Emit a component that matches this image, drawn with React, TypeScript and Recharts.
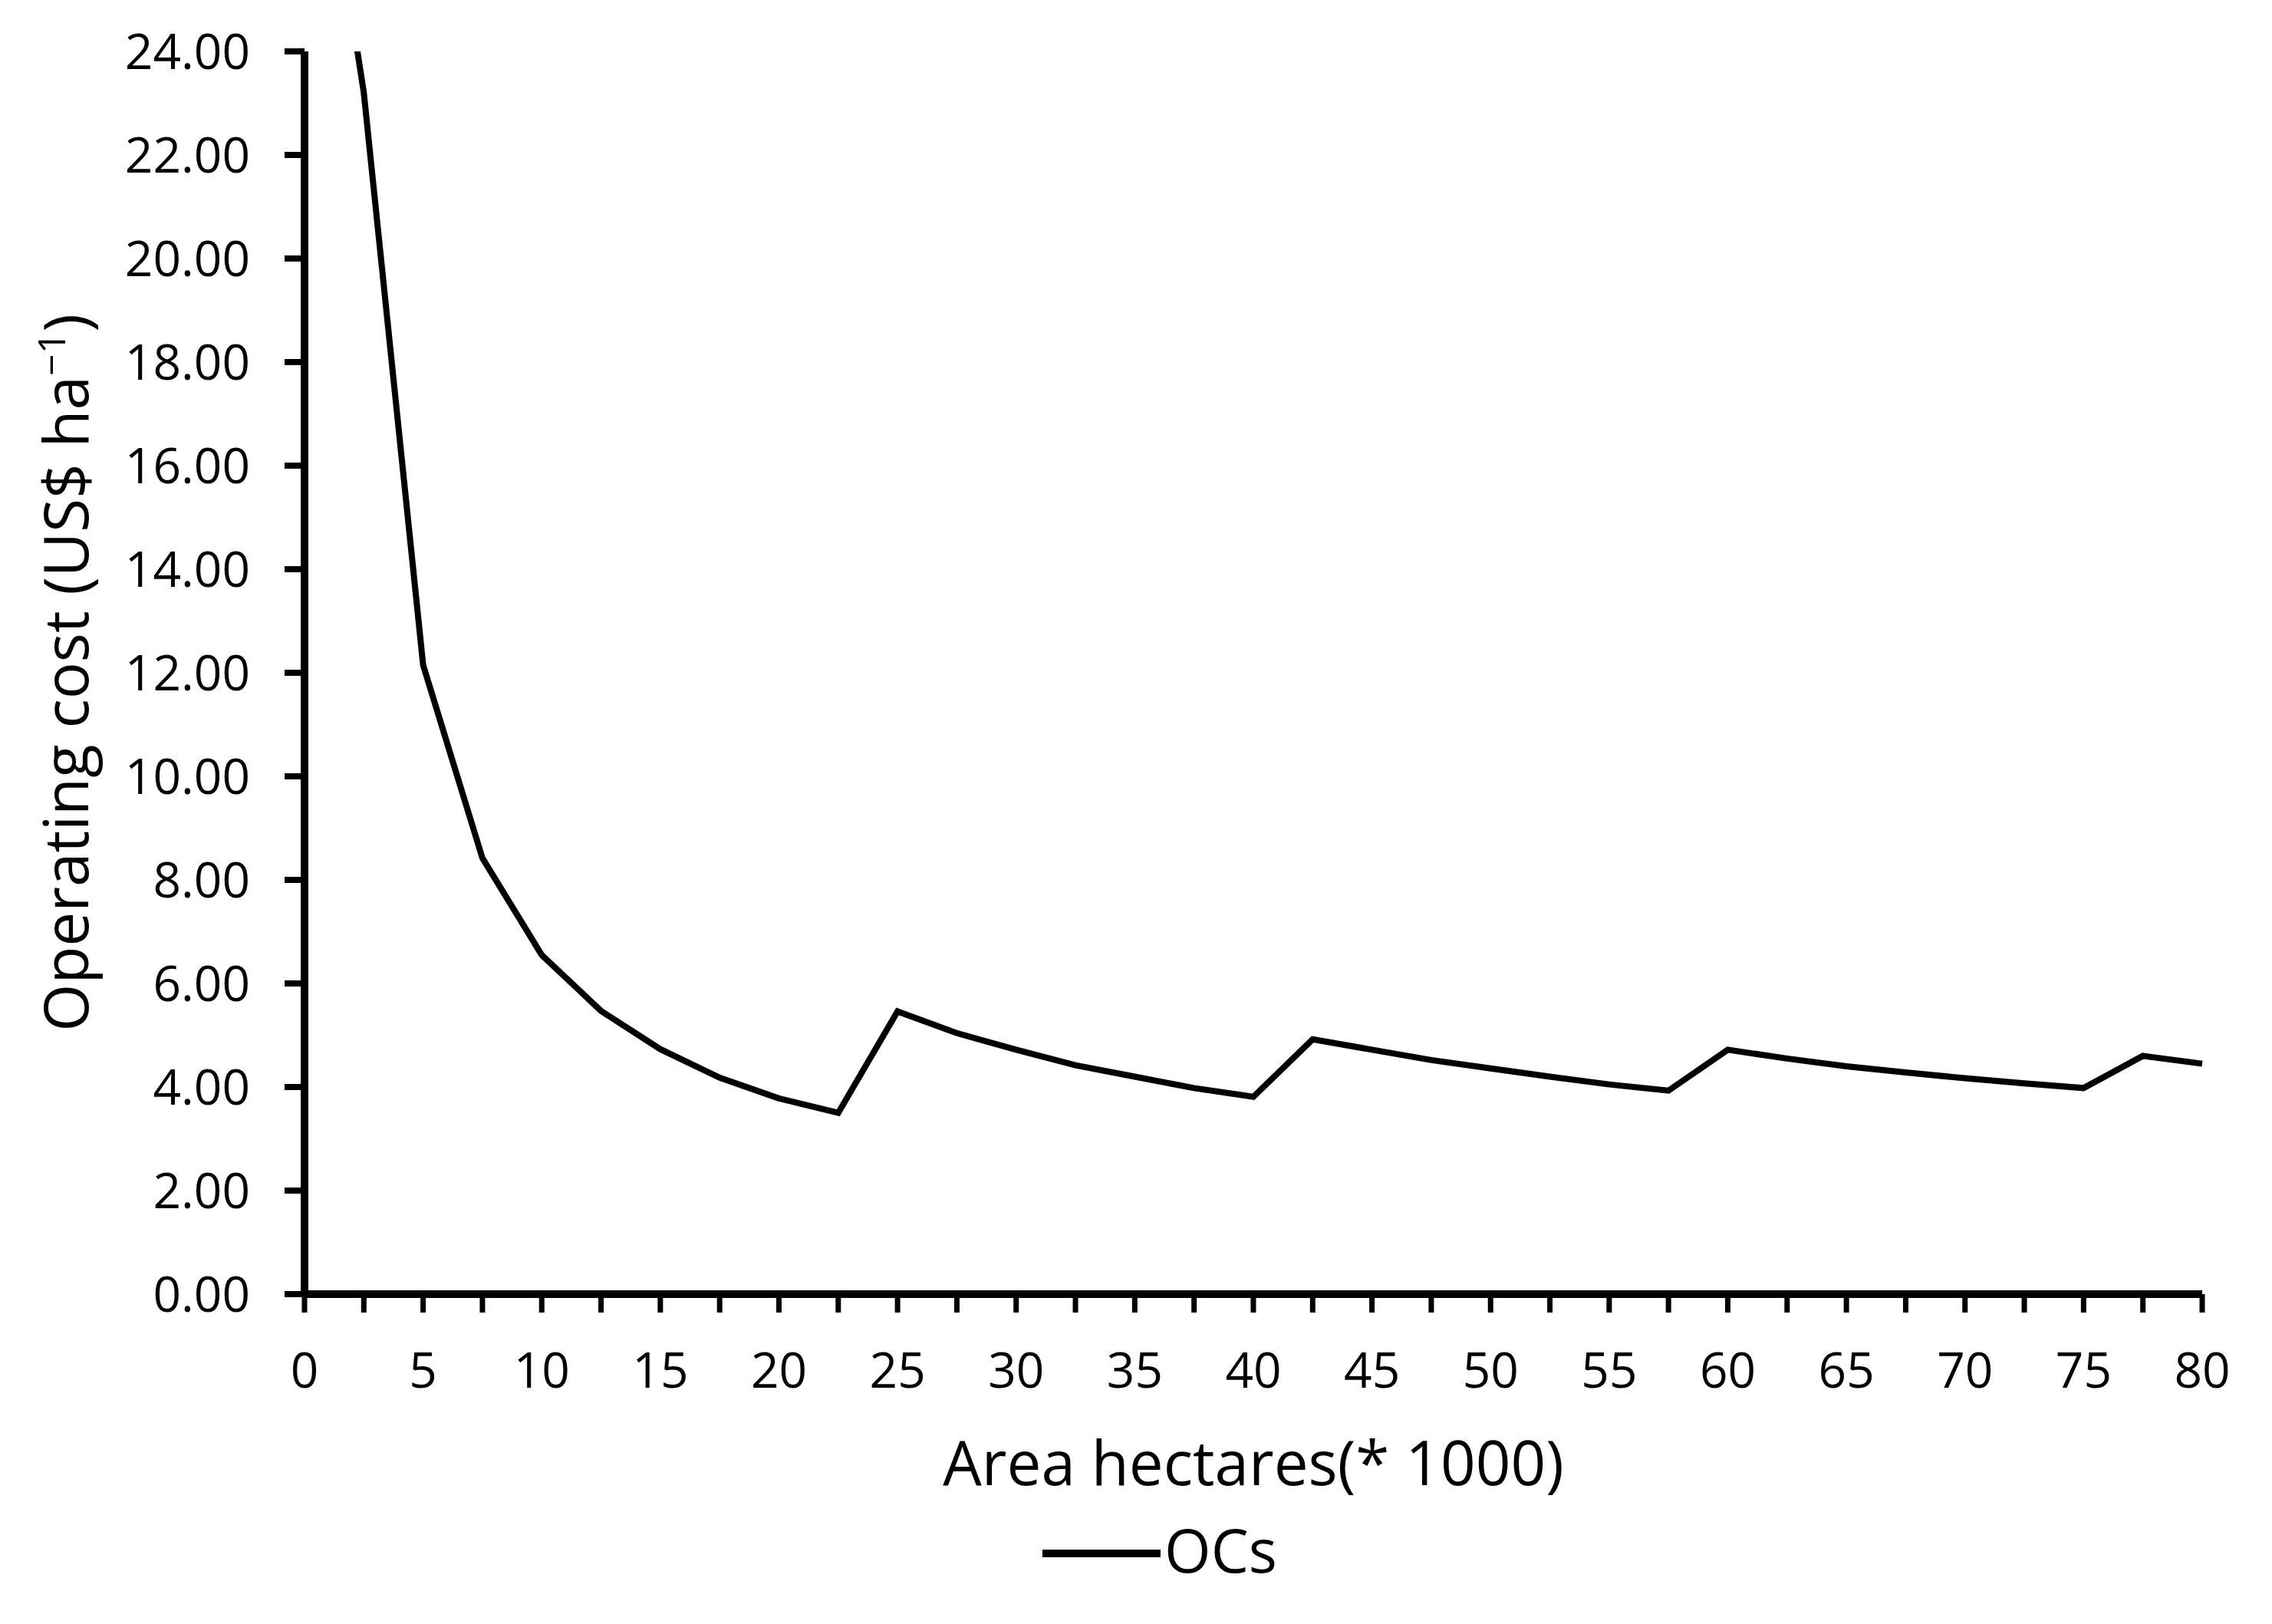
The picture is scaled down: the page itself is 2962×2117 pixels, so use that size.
import { LineChart, Line, XAxis, YAxis, Legend, Label } from 'recharts';

const areaThousandHa = [
  1.25, 2.5, 5, 7.5, 10, 12.5, 15, 17.5, 20, 22.5, 25, 27.5, 30, 32.5, 35, 37.5, 40,
  42.5, 45, 47.5, 50, 52.5, 55, 57.5, 60, 62.5, 65, 67.5, 70, 72.5, 75, 77.5, 80,
];
const operatingCost = [
  26.9, 23.2, 12.15, 8.42, 6.55, 5.47, 4.73, 4.18, 3.78, 3.5, 5.46, 5.04, 4.72, 4.42, 4.2, 3.98, 3.81,
  4.92, 4.72, 4.52, 4.36, 4.2, 4.05, 3.93, 4.72, 4.55, 4.4, 4.28, 4.17, 4.07, 3.98, 4.6, 4.45,
];
const xTicks = [
  0, 2.5, 5, 7.5, 10, 12.5, 15, 17.5, 20, 22.5, 25, 27.5, 30, 32.5, 35, 37.5, 40,
  42.5, 45, 47.5, 50, 52.5, 55, 57.5, 60, 62.5, 65, 67.5, 70, 72.5, 75, 77.5, 80,
];
const yTicks = [0, 2, 4, 6, 8, 10, 12, 14, 16, 18, 20, 22, 24];

const data = areaThousandHa.map((x, i) => ({ x, ocs: operatingCost[i] }));

const FONT = "'Open Sans', 'Noto Sans', sans-serif";

const YTitle = (props: any) => {
  const vb = props.viewBox || {};
  const cx = 115;
  const cy = vb.y + vb.height / 2;
  return (
    <text
      x={cx}
      y={cy}
      transform={`rotate(-90 ${cx} ${cy})`}
      textAnchor="middle"
      fontSize={80}
      fontFamily={FONT}
      fill="#000"
    >
      Operating cost (US$ ha
      <tspan dy={-30} fontSize={50}>−1</tspan>
      <tspan dy={30}>)</tspan>
    </text>
  );
};

const LegendContent = () => (
  <svg width={500} height={140} style={{ display: 'block', overflow: 'visible' }}>
    <line x1={9} x2={163} y1={65} y2={65} stroke="#000" strokeWidth={10} />
    <text x={168} y={90} fontSize={78} fontFamily={FONT} fill="#000">
      OCs
    </text>
  </svg>
);

export default function App() {
  return (
    <div style={{ position: 'absolute', left: 0, top: 0, background: '#fff', fontFamily: FONT }}>
      <LineChart
        width={2962}
        height={2117}
        data={data}
        margin={{ top: 67, right: 91, left: 0, bottom: 0 }}
      >
        <XAxis
          dataKey="x"
          type="number"
          domain={[0, 80]}
          ticks={xTicks}
          interval={0}
          height={430}
          tickFormatter={(v: number) => (v % 5 === 0 ? String(v) : '')}
          tick={{ fontSize: 64, fill: '#000', fontFamily: FONT }}
          tickSize={24}
          tickMargin={53}
          axisLine={{ stroke: '#000', strokeWidth: 10 }}
          tickLine={{ stroke: '#000', strokeWidth: 7 }}
        >
          <Label
            value="Area hectares(* 1000)"
            position="insideBottom"
            offset={181}
            style={{ fontSize: 80, fontFamily: FONT, fill: '#000' }}
          />
        </XAxis>
        <YAxis
          type="number"
          domain={[0, 24]}
          allowDataOverflow
          ticks={yTicks}
          interval={0}
          width={397}
          tickFormatter={(v: number) => v.toFixed(2)}
          tick={{ fontSize: 64, fill: '#000', fontFamily: FONT }}
          tickSize={26}
          tickMargin={45}
          axisLine={{ stroke: '#000', strokeWidth: 10 }}
          tickLine={{ stroke: '#000', strokeWidth: 8 }}
        >
          <Label content={YTitle} />
        </YAxis>
        <Legend
          layout="horizontal"
          verticalAlign="middle"
          align="center"
          wrapperStyle={{ left: 1350, top: 1960, width: 500, height: 140 }}
          content={LegendContent}
        />
        <Line
          type="linear"
          dataKey="ocs"
          name="OCs"
          stroke="#000"
          strokeWidth={8}
          dot={false}
          activeDot={false}
          isAnimationActive={false}
        />
      </LineChart>
    </div>
  );
}
